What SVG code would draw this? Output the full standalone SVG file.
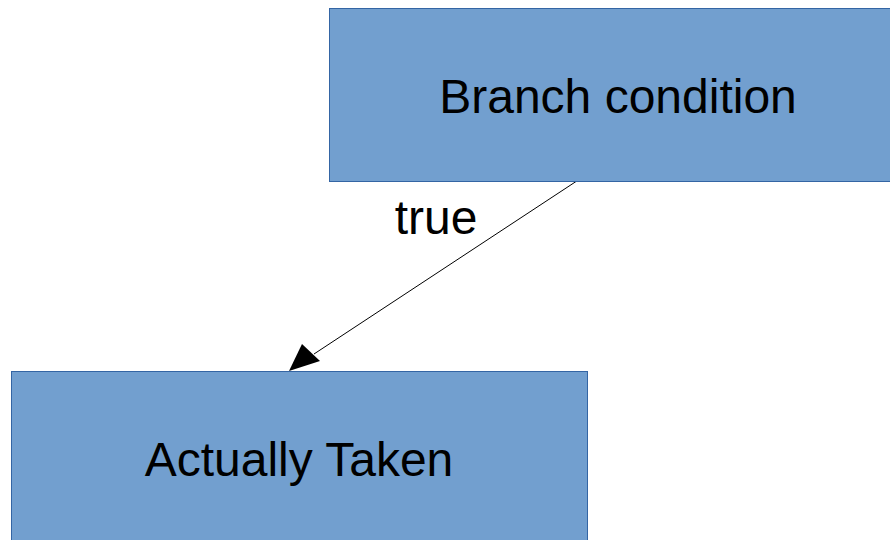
<svg xmlns="http://www.w3.org/2000/svg" width="890" height="540" viewBox="0 0 890 540">
<style>
.box{fill:#729fcf;stroke:#3465a4;stroke-width:1}
.t{font-family:"Liberation Sans",Arial,sans-serif;font-size:48px;fill:#000}
.edge{stroke:#000;stroke-width:1}
.head{fill:#000}
</style>
<rect width="890" height="540" fill="#fff"/>
<g id="connectors">
<line class="edge" x1="576" y1="181.5" x2="314" y2="354" />
<path class="head" d="M289,371 L302,344 L320,361 Z"/>
<text class="t" x="436" y="234" text-anchor="middle">true</text>
</g>
<g id="branch">
<rect class="box" x="329.5" y="8.5" width="561" height="173"/>
<text class="t" x="618" y="113" text-anchor="middle">Branch condition</text>
</g>
<g id="taken">
<rect class="box" x="11.5" y="371.5" width="576" height="180"/>
<text class="t" x="299" y="476" text-anchor="middle">Actually Taken</text>
</g>
</svg>
